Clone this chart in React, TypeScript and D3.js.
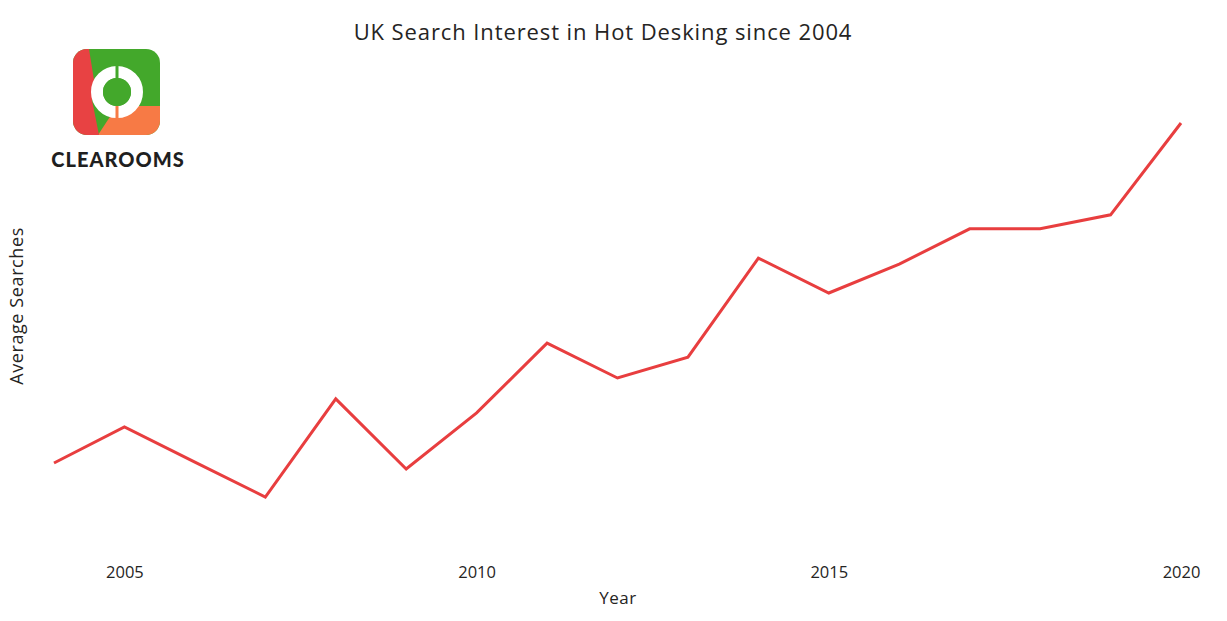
import React, { useEffect, useRef } from 'react';
import * as d3 from 'd3';

const years = [2004, 2005, 2006, 2007, 2008, 2009, 2010, 2011, 2012, 2013, 2014, 2015, 2016, 2017, 2018, 2019, 2020];
const searches = [20.0, 28.5, 20.2, 12.0, 35.1, 18.6, 31.8, 48.2, 40.0, 44.9, 68.2, 60.0, 66.8, 75.1, 75.1, 78.4, 100];
const xTicks = [2005, 2010, 2015, 2020];

const WIDTH = 1227;
const HEIGHT = 621;
const FONT = "'Open Sans', 'Noto Sans', sans-serif";

function Logo() {
    // Clearooms badge, drawn at the top left
    const cx = 117, cy = 92;
    return (
        <g>
            <defs>
                <clipPath id="badge">
                    <rect x={73} y={49} width={87} height={86} rx={14} ry={14} />
                </clipPath>
            </defs>
            <g clipPath="url(#badge)">
                <rect x={73} y={49} width={87} height={86} fill="#43A82B" />
                <polygon points={`160,106 ${cx},106 98,135 160,135`} fill="#F77A45" />
                <polygon points="73,49 89,49 94,80 92,100 99,135 73,135" fill="#E84243" />
            </g>
            <circle cx={cx} cy={cy} r={20} fill="none" stroke="#fff" strokeWidth={12} />
            <circle cx={cx} cy={cy} r={14} fill="#43A82B" />
            <rect x={cx - 1.5} y={cy - 27} width={3} height={13} fill="#43A82B" />
            <rect x={cx - 1.5} y={cy + 14} width={3} height={13} fill="#F77A45" />
            <text x={118} y={167} textAnchor="middle" fontFamily="Lato, 'Open Sans', sans-serif"
                fontWeight={900} fontSize={20} letterSpacing={1} fill="#1f1f1f">CLEAROOMS</text>
        </g>
    );
}

export default function App() {
    const gRef = useRef<SVGGElement>(null);

    useEffect(() => {
        if (!gRef.current) return;
        const g = d3.select(gRef.current);
        g.selectAll("*").remove();

        const x = d3.scaleLinear().domain([2004, 2020]).range([54, 1181]);
        const y = d3.scaleLinear().domain([0, 100]).range([548, 123]);

        // X axis, labels only
        const axis = g.append("g")
            .attr("transform", `translate(0,${563})`)
            .call(d3.axisBottom(x).tickValues(xTicks).tickFormat(d3.format("d")).tickSize(0));
        axis.select(".domain").remove();
        axis.selectAll("text")
            .attr("dy", "0.71em")
            .style("font-family", FONT)
            .style("font-size", "16.5px")
            .style("fill", "#252423");

        const line = d3.line<number>()
            .x((_, i) => x(years[i]))
            .y(d => y(d));

        g.append("path")
            .datum(searches)
            .attr("fill", "none")
            .attr("stroke", "#E83E3F")
            .attr("stroke-width", 3)
            .attr("d", line);
    }, []);

    return (
        <svg width={WIDTH} height={HEIGHT} style={{ position: 'absolute', left: 0, top: 0, background: '#fff' }}>
            <text x={603} y={40} textAnchor="middle" fontFamily={FONT}
                fontSize={22} letterSpacing={0.9} fill="#252423">UK Search Interest in Hot Desking since 2004</text>
            <Logo />
            <g ref={gRef} />
            <text x={618} y={604} textAnchor="middle" fontFamily={FONT}
                fontSize={17} letterSpacing={0.5} fill="#252423">Year</text>
            <text transform="translate(23,306) rotate(-90)" textAnchor="middle"
                fontFamily={FONT} fontSize={18} letterSpacing={0.6} fill="#252423">Average Searches</text>
        </svg>
    );
}
